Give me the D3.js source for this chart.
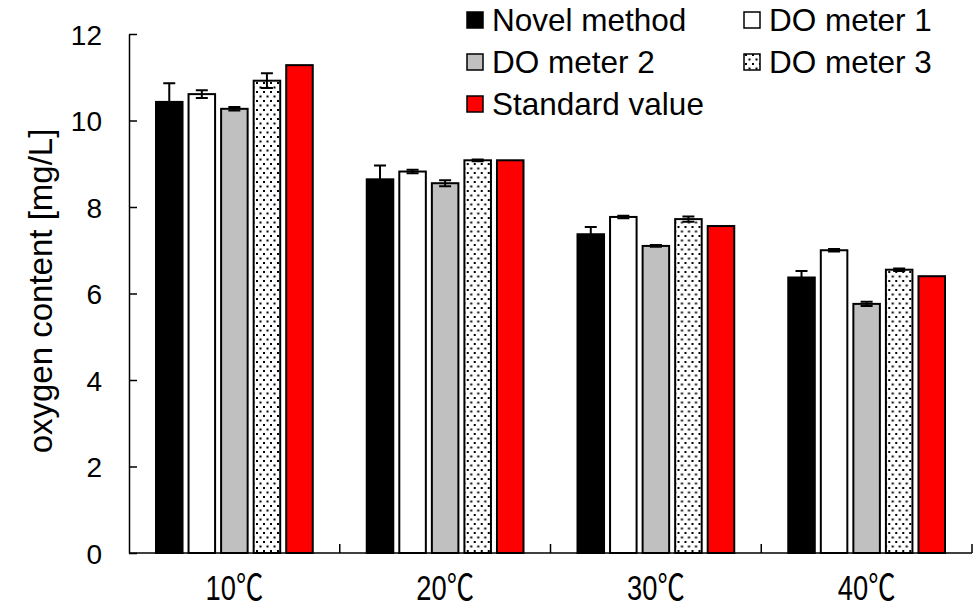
<!DOCTYPE html>
<html>
<head>
<meta charset="utf-8">
<script src="https://cdn.jsdelivr.net/npm/d3@7"></script>
<style>
  html, body { margin: 0; padding: 0; background: #fff; }
  svg { display: block; }
  text { font-family: "Liberation Sans", Arial, sans-serif; fill: #000; }
</style>
</head>
<body>
<svg id="chart" width="977" height="609"></svg>
<script>
// ---- data ----
const categories = ["10℃", "20℃", "30℃", "40℃"];
const seriesNames = ["Novel method", "DO meter 1", "DO meter 2", "DO meter 3", "Standard value"];
const novelMethod   = [10.43, 8.64, 7.37, 6.37];
const doMeter1      = [10.61, 8.82, 7.77, 7.00];
const doMeter2      = [10.27, 8.55, 7.10, 5.76];
const doMeter3      = [10.92, 9.08, 7.72, 6.55];
const standardValue = [11.28, 9.08, 7.56, 6.40];
const novelErr  = [0.43, 0.32, 0.17, 0.15];
const meter1Err = [0.09, 0.04, 0.03, 0.03];
const meter2Err = [0.04, 0.07, 0.02, 0.05];
const meter3Err = [0.17, 0.02, 0.06, 0.03];
const yTicks = [0, 2, 4, 6, 8, 10, 12];

const seriesValues = [novelMethod, doMeter1, doMeter2, doMeter3, standardValue];
const seriesErrors = [novelErr, meter1Err, meter2Err, meter3Err, null];
const fills = ["#000000", "#ffffff", "#c0c0c0", "url(#dots)", "#ff0000"];

// ---- layout ----
const svg = d3.select("#chart");
const x0 = 129, x1 = 972, yBottom = 553, yTop = 34;

const defs = svg.append("defs");
const pat = defs.append("pattern").attr("id", "dots")
  .attr("patternUnits", "userSpaceOnUse").attr("width", 7).attr("height", 9);
pat.append("rect").attr("width", 7).attr("height", 9).attr("fill", "#fff");
pat.append("rect").attr("x", 1).attr("y", 1).attr("width", 2).attr("height", 2).attr("fill", "#000");
pat.append("rect").attr("x", 4.5).attr("y", 5.5).attr("width", 2).attr("height", 2).attr("fill", "#000");

const x = d3.scaleBand().domain(categories).range([x0, x1]).padding(0);
const xi = d3.scaleBand().domain(seriesNames).range([27, x.bandwidth() - 27]).paddingInner(0.185).paddingOuter(0);
const y = d3.scaleLinear().domain([0, 12]).range([yBottom, yTop]);

// bars
const groups = svg.append("g").selectAll("g").data(categories).join("g")
  .attr("transform", d => `translate(${x(d)},0)`);

seriesNames.forEach((s, si) => {
  groups.append("rect")
    .attr("x", xi(s))
    .attr("y", (d, ci) => y(seriesValues[si][ci]))
    .attr("width", xi.bandwidth())
    .attr("height", (d, ci) => y(0) - y(seriesValues[si][ci]))
    .attr("fill", fills[si])
    .attr("stroke", "#000")
    .attr("stroke-width", 2);
});

// error bars
seriesNames.forEach((s, si) => {
  const errs = seriesErrors[si];
  if (!errs) return;
  const cx = xi(s) + xi.bandwidth() / 2;
  const cap = 6;
  groups.each(function(d, ci) {
    const g = d3.select(this);
    const v = seriesValues[si][ci], e = errs[ci];
    const path = d3.path();
    path.moveTo(cx, y(v - e)); path.lineTo(cx, y(v + e));
    path.moveTo(cx - cap, y(v + e)); path.lineTo(cx + cap, y(v + e));
    path.moveTo(cx - cap, y(v - e)); path.lineTo(cx + cap, y(v - e));
    g.append("path").attr("d", path.toString())
      .attr("stroke", "#000").attr("stroke-width", 2).attr("fill", "none");
  });
});

// y axis
const yAxis = svg.append("g").attr("transform", `translate(${x0},0)`)
  .call(d3.axisRight(y).tickValues(yTicks).tickSize(8).tickSizeOuter(0).tickFormat(d3.format("d")));
yAxis.select(".domain").attr("stroke", "#000").attr("stroke-width", 1.5);
yAxis.selectAll(".tick line").attr("stroke", "#000").attr("stroke-width", 1.5);
yAxis.selectAll(".tick text")
  .attr("x", -27).attr("text-anchor", "end").attr("dy", "0.36em")
  .style("font-size", "28px").style("font-family", "'Liberation Sans', Arial, sans-serif");

// x axis
const xAxis = svg.append("g").attr("transform", `translate(0,${yBottom})`);
xAxis.append("line").attr("x1", x0).attr("x2", x1).attr("y1", 0).attr("y2", 0)
  .attr("stroke", "#000").attr("stroke-width", 1.5);
xAxis.selectAll("line.tk").data(categories).join("line").attr("class", "tk")
  .attr("x1", d => x(d) + x.bandwidth()).attr("x2", d => x(d) + x.bandwidth())
  .attr("y1", 0).attr("y2", -9).attr("stroke", "#000").attr("stroke-width", 1.5);
xAxis.selectAll("text").data(categories).join("text")
  .attr("transform", d => `translate(${x(d) + x.bandwidth() / 2},47) scale(0.78,1)`)
  .attr("text-anchor", "middle")
  .style("font-size", "35px")
  .style("font-family", "'Liberation Sans', 'Noto Sans CJK JP', sans-serif")
  .text(d => d);

// y label
svg.append("text")
  .attr("transform", `translate(52,291) rotate(-90)`)
  .attr("text-anchor", "middle")
  .style("font-size", "33px")
  .text("oxygen content [mg/L]");

// legend
const legendPos = [
  {sx: 467, row: 0}, {sx: 744, row: 0},
  {sx: 467, row: 1}, {sx: 744, row: 1},
  {sx: 467, row: 2}
];
const lg = svg.append("g").selectAll("g").data(seriesNames).join("g")
  .attr("transform", (d, i) => `translate(${legendPos[i].sx},${20 + legendPos[i].row * 42})`);
lg.append("rect").attr("x", 0).attr("y", -8).attr("width", 16).attr("height", 16)
  .attr("fill", (d, i) => fills[i]).attr("stroke", "#000").attr("stroke-width", 1.5);
lg.append("text").attr("x", 25).attr("y", 0).attr("dy", "0.36em")
  .style("font-size", "31.5px").text(d => d);
</script>
</body>
</html>
